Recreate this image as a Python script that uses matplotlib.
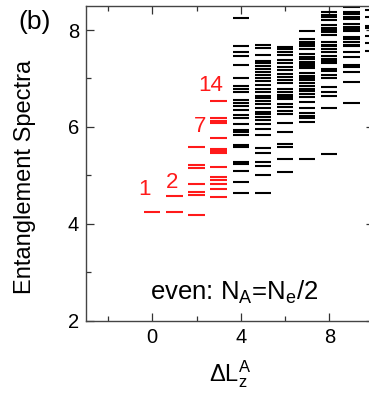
import matplotlib
matplotlib.use("Agg")
import matplotlib.pyplot as plt
from matplotlib.ticker import FixedLocator

plt.rcParams['font.family'] = ['Liberation Sans', 'DejaVu Sans']
plt.rcParams['mathtext.default'] = 'regular'

# entanglement levels, one list per momentum sector dL_z^A
levels_red = {
    0: [4.25],
    1: [4.58, 4.25],
    2: [5.59, 5.21, 5.15, 4.83, 4.65, 4.60, 4.19],
    3: [6.54, 6.18, 6.13, 6.08, 5.77, 5.55, 5.51, 5.46, 5.18, 4.96, 4.91,
        4.82, 4.72, 4.56],
}
levels_black = {
    4: [8.24, 7.67, 7.55, 7.46, 7.28, 7.00, 6.85, 6.78, 6.72, 6.56, 6.50,
        6.43, 6.35, 6.24, 6.18, 6.07, 5.94, 5.89, 5.84, 5.62, 5.58, 5.28,
        5.23, 5.10, 4.87, 4.63],
    5: [7.69, 7.62, 7.48, 7.36, 7.31, 7.26, 7.20, 7.13, 7.07, 7.01, 6.95,
        6.87, 6.78, 6.72, 6.64, 6.59, 6.54, 6.47, 6.40, 6.31, 6.26, 6.21,
        6.14, 6.06, 5.96, 5.84, 5.57, 5.46, 5.28, 5.20, 5.00, 4.63],
    6: [7.65, 7.60, 7.55, 7.48, 7.38, 7.31, 7.24, 7.18, 7.09, 7.03, 6.97,
        6.90, 6.78, 6.72, 6.67, 6.62, 6.57, 6.47, 6.42, 6.34, 6.27, 6.08,
        5.90, 5.65, 5.59, 5.33, 5.08],
    7: [7.97, 7.81, 7.76, 7.71, 7.66, 7.60, 7.51, 7.45, 7.40, 7.35, 7.30,
        7.26, 7.21, 7.11, 7.06, 7.01, 6.96, 6.91, 6.85, 6.79, 6.74, 6.69,
        6.62, 6.52, 6.39, 6.28, 6.23, 6.18, 6.11, 5.33],
    8: [8.37, 8.31, 8.26, 8.21, 8.10, 8.05, 8.00, 7.95, 7.90, 7.75, 7.70,
        7.66, 7.60, 7.55, 7.47, 7.41, 7.36, 7.31, 7.20, 7.15, 7.08, 7.02,
        6.83, 6.73, 6.63, 6.40, 5.44],
    9: [8.48, 8.37, 8.32, 8.27, 8.22, 8.12, 8.07, 8.02, 7.97, 7.86, 7.81,
        7.75, 7.70, 7.66, 7.55, 7.45, 7.28, 7.23, 7.14, 6.92, 6.49],
    10: [8.41, 8.27, 8.08, 8.04, 7.88, 7.73, 7.57],
}

# counting labels: (text, dL position, level position)
count_labels = [("1", -0.37, 4.72), ("2", 0.89, 4.85),
                ("7", 2.14, 6.01), ("14", 2.63, 6.85)]

x_major = [0, 4, 8]
x_minor = [-2, 2, 6, 10]
y_major = [2, 4, 6, 8]
y_minor = [3, 5, 7]

half_width = 0.37
red = "#ff1a1a"

fig = plt.figure(figsize=(3.69, 3.94), dpi=100)
ax = fig.add_axes([0.2328, 0.1853, 0.7794, 0.8001])

for dl, ys in levels_red.items():
    ax.hlines(ys, dl - half_width, dl + half_width, color=red, lw=1.5)
for dl, ys in levels_black.items():
    ax.hlines(ys, dl - half_width, dl + half_width, color="black", lw=1.5)

for txt, xv, yv in count_labels:
    ax.text(xv, yv, txt, color=red, fontsize=16, ha="center", va="center")

ax.text(3.71, 2.43, r"even: N$_A$=N$_e$/2", fontsize=18.5, ha="center",
        va="baseline")

ax.set_xlim(-3, 10)
ax.set_ylim(2, 8.5)
ax.xaxis.set_major_locator(FixedLocator(x_major))
ax.xaxis.set_minor_locator(FixedLocator(x_minor))
ax.yaxis.set_major_locator(FixedLocator(y_major))
ax.yaxis.set_minor_locator(FixedLocator(y_minor))
ax.tick_params(which="both", direction="in", top=True, right=True,
               color="#333333", width=0.9, labelsize=14.5)
ax.tick_params(which="major", length=5.8, pad=5)
ax.tick_params(which="minor", length=3.6)
for s in ax.spines.values():
    s.set_linewidth(1.0)
    s.set_color("#444444")

fig.text(25 / 369, 1 - 176.5 / 394, "Entanglement Spectra", rotation=90,
         ha="center", va="center", fontsize=17)
fig.text(230 / 369, 1 - 381.7 / 394, r"$\Delta L_z^A$", ha="center",
         va="baseline", fontsize=17)
fig.text(34.5 / 369, 1 - 22.5 / 394, "(b)", ha="center", va="center",
         fontsize=19)

fig.savefig("out.png", dpi=100)
